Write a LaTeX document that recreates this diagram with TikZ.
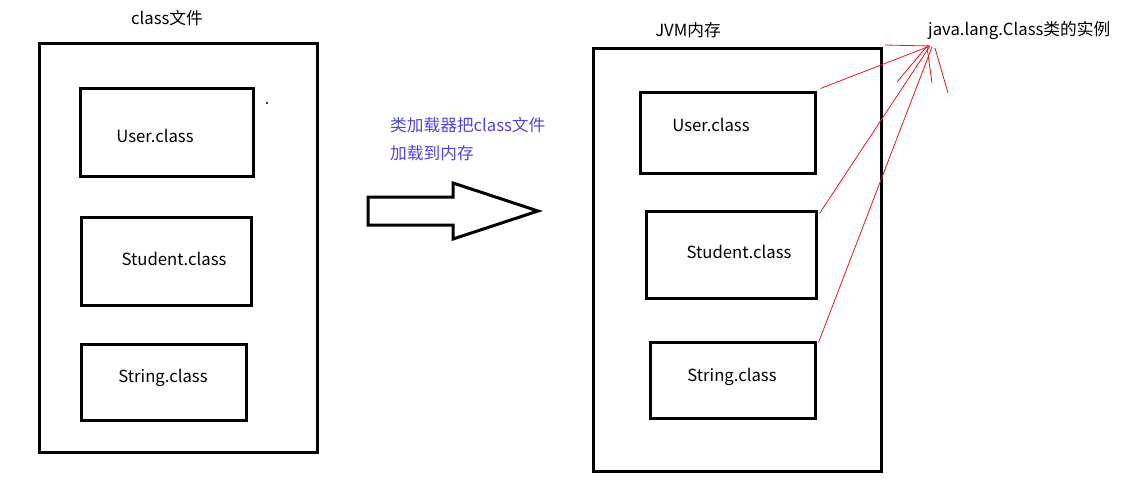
\documentclass[tikz,border=0pt]{standalone}
\usepackage{fontspec}
\setmainfont{Noto Sans CJK SC}
\usepackage{xcolor}
\usetikzlibrary{positioning, calc}
\definecolor{loadblue}{RGB}{80,70,220}
\definecolor{linkred}{RGB}{235,20,30}
\tikzset{
  frame/.style={draw, line width=3pt, inner sep=0pt},
  clsbox/.style={draw, line width=3pt, inner sep=0pt},
  txt/.style={inner sep=0pt, font=\fontsize{16.7}{19}\selectfont},
  link/.style={draw=linkred, line width=0.8pt}
}
\begin{document}
\begin{tikzpicture}[x=1pt,y=-1pt]
\useasboundingbox (0,0) rectangle (1121,488);
% class files
\node[frame, minimum width=278, minimum height=409] (files) at (178,247.5) {};
\node[txt] (filestitle) at (167,18) {class文件};
\node[clsbox, minimum width=173, minimum height=88] (fuser) at (166.5,132) {};
\node[clsbox, minimum width=170, minimum height=88] (fstudent) at (166,261) {};
\node[clsbox, minimum width=165, minimum height=76] (fstring) at (163.5,382) {};
\node[txt] (fusertxt) at (155,136) {User.class};
\node[txt] (fstudenttxt) at (174,259) {Student.class};
\node[txt] (fstringtxt) at (163,378) {String.class};
\fill (267,103) circle (1.2pt);
% loading arrow
\node[txt, text=loadblue, anchor=west] (load1) at (390,125) {类加载器把class文件};
\node[txt, text=loadblue, anchor=west] (load2) at (390,153) {加载到内存};
\draw[line width=3pt, line join=miter] (368,197) -- (453,197) -- (453,183) -- (538,211)
  -- (453,239) -- (453,225) -- (368,225) -- cycle;
% JVM memory
\node[frame, minimum width=288, minimum height=423] (jvm) at (737,259.5) {};
\node[txt] (jvmtitle) at (688,30) {JVM内存};
\node[clsbox, minimum width=175, minimum height=81] (juser) at (727.5,132.5) {};
\node[clsbox, minimum width=170, minimum height=87] (jstudent) at (731,254.5) {};
\node[clsbox, minimum width=165, minimum height=76] (jstring) at (732.5,380) {};
\node[txt] (jusertxt) at (711,125) {User.class};
\node[txt] (jstudenttxt) at (739,252) {Student.class};
\node[txt] (jstringtxt) at (732,377) {String.class};
% Class instances
\node[txt, anchor=west] (inst) at (928,31) {java.lang.Class类的实例};
\coordinate (hub) at (930,46);
\draw[link] (885,45) -- (hub);
\draw[link] ($(juser.north east)+(4,-2)$) -- (hub);
\draw[link] ($(jstudent.north east)+(2,4)$) -- (hub);
\draw[link] ($(jstring.north east)+(2,2)$) -- (932,47);
\draw[link] (897,82) -- (928,45);
\draw[link] (932,83) -- (927,47);
\draw[link] (948,93) -- (935,48);
\end{tikzpicture}
\end{document}
